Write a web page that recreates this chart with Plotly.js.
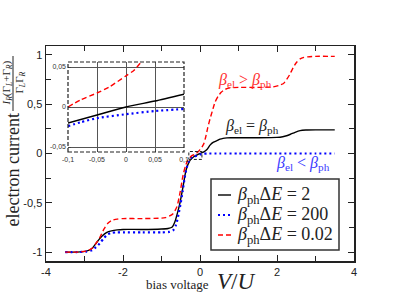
<!DOCTYPE html>
<html>
<head>
<meta charset="utf-8">
<script src="https://cdn.plot.ly/plotly-3.0.1.min.js"></script>
<style>html,body{margin:0;padding:0;background:#fff;}#chart{width:399px;height:308px;}</style>
</head>
<body>
<div id="chart"></div>
<script>
// ---------- data ----------
const seriesNames = ["<i>β</i><sub>ph</sub>Δ<i>E</i> = 2", "<i>β</i><sub>ph</sub>Δ<i>E</i> = 200", "<i>β</i><sub>ph</sub>Δ<i>E</i> = 0.02"];

// main panel: beta_ph dE = 2 (solid black)
const blackX = [-3.5,-3.2,-2.95,-2.8,-2.68,-2.55,-2.42,-2.3,-2.15,-2.0,-1.5,-1.0,-0.83,-0.72,-0.65,-0.57,-0.52,-0.47,-0.42,-0.39,-0.34,-0.3,-0.24,-0.17,-0.1,-0.05,0,0.05,0.1,0.18,0.26,0.35,0.44,0.52,0.6,0.7,0.8,1.0,1.5,2.0,2.15,2.25,2.35,2.47,2.6,2.75,3.0,3.5];
const blackY = [-1,-1,-0.99,-0.96,-0.9,-0.84,-0.8,-0.785,-0.775,-0.77,-0.77,-0.765,-0.76,-0.745,-0.69,-0.58,-0.5,-0.4,-0.29,-0.22,-0.14,-0.1,-0.06,-0.035,-0.02,-0.01,0,0.008,0.016,0.04,0.085,0.115,0.13,0.145,0.153,0.158,0.16,0.16,0.16,0.163,0.17,0.18,0.195,0.215,0.232,0.238,0.24,0.24];

// main panel: beta_ph dE = 200 (dotted blue)
const blueX = [-3.5,-3.2,-2.95,-2.8,-2.7,-2.6,-2.5,-2.4,-2.3,-2.15,-2.0,-1.5,-1.0,-0.8,-0.7,-0.62,-0.56,-0.5,-0.45,-0.4,-0.35,-0.3,-0.25,-0.2,-0.15,-0.1,-0.05,0,0.05,0.1,0.2,0.5,1,2,3,3.5];
const blueY = [-1,-1,-0.995,-0.98,-0.95,-0.91,-0.86,-0.82,-0.805,-0.8,-0.8,-0.8,-0.8,-0.795,-0.78,-0.72,-0.62,-0.5,-0.38,-0.25,-0.15,-0.09,-0.05,-0.035,-0.028,-0.024,-0.014,-0.009,-0.005,-0.0025,0,0,0,0,0,0];

// main panel: beta_ph dE = 0.02 (dashed red)
const redX = [-3.5,-3.2,-2.95,-2.8,-2.7,-2.6,-2.5,-2.4,-2.3,-2.15,-2.0,-1.5,-1.0,-0.9,-0.8,-0.7,-0.6,-0.52,-0.44,-0.38,-0.32,-0.26,-0.2,-0.15,-0.1,-0.05,0,0.05,0.1,0.15,0.2,0.26,0.32,0.39,0.47,0.55,0.65,0.78,1.0,1.5,1.9,2.05,2.17,2.25,2.33,2.42,2.5,2.6,2.7,2.8,3.0,3.5];
const redY = [-1,-1,-0.99,-0.96,-0.91,-0.85,-0.77,-0.71,-0.68,-0.665,-0.66,-0.66,-0.655,-0.65,-0.635,-0.61,-0.54,-0.4,-0.22,-0.13,-0.07,-0.04,-0.02,-0.012,0,0.018,0.039,0.065,0.1,0.17,0.26,0.35,0.43,0.52,0.58,0.62,0.65,0.665,0.67,0.67,0.675,0.69,0.71,0.75,0.8,0.87,0.92,0.96,0.975,0.98,0.985,0.985];

// inset (zoom around origin)
const insetBlackX = [-0.1,-0.05,0,0.05,0.1];
const insetBlackY = [-0.02,-0.01,0,0.0075,0.016];
const insetBlueX = [-0.1,-0.078,-0.05,0,0.05,0.1];
const insetBlueY = [-0.024,-0.019,-0.014,-0.009,-0.005,-0.0025];
const insetRedX = [-0.1,-0.078,-0.05,-0.029,0,0.014,0.025,0.04];
const insetRedY = [0,0.009,0.0175,0.025,0.039,0.046,0.055,0.065];

// tick labels
const xTickVals = [-4,-2,0,2,4];
const xTickText = ["-4","-2","0","2","4"];
const yTickVals = [-1,-0.5,0,0.5,1];
const yTickText = ["-1","-0,5","0","0,5","1"];
const insetXTickVals = [-0.1,-0.05,0,0.05,0.1];
const insetXTickText = ["-0,1","-0,05","0","0,05","0,1"];
const insetYTickVals = [-0.05,0,0.05];
const insetYTickText = ["-0,05","0","0,05"];

// ---------- styles ----------
const colors = ["#000000", "#0000ff", "#ff0000"];
const dashes = ["solid", "2px,3px", "5px,3px"];
const widths = [1.4, 2.2, 1.4];

function tr(x, y, i, xa, ya) {
  return {x: x, y: y, type: "scatter", mode: "lines", name: seriesNames[i],
    xaxis: xa, yaxis: ya, showlegend: false, hoverinfo: "skip",
    line: {color: colors[i], dash: dashes[i], width: widths[i], shape: "spline", smoothing: 0.6}};
}

const data = [
  tr(blackX, blackY, 0, "x", "y"),
  tr(blueX, blueY, 1, "x", "y"),
  tr(redX, redY, 2, "x", "y"),
  tr(insetBlackX, insetBlackY, 0, "x2", "y2"),
  tr(insetBlueX, insetBlueY, 1, "x2", "y2"),
  tr(insetRedX, insetRedY, 2, "x2", "y2")
];

// pixel -> paper helpers (plot area: x 46..354, y 46..261)
const L = 46, R = 45, T = 46, B = 47, W = 399, H = 308;
const pw = W - L - R, ph = H - T - B;
const px = p => (p - L) / pw;
const py = p => (H - B - p) / ph;

const serif = "Liberation Serif, Times New Roman, serif";
const sans = "Liberation Sans, Arial, sans-serif";

function paperText(xp, yp, text, size, extra) {
  return Object.assign({x: px(xp), y: py(yp), xref: "paper", yref: "paper", xanchor: "center", yanchor: "middle",
    text: text, showarrow: false, font: {family: serif, size: size, color: "#222"}}, extra || {});
}

const annotations = [
  // in-plot labels
  {x: 1.17, y: 0.74, xref: "x", yref: "y", xanchor: "center", yanchor: "middle", text: "<i>β</i><sub>el</sub> > <i>β</i><sub>ph</sub>", showarrow: false, font: {family: serif, size: 16, color: "#ff3030"}},
  {x: 1.36, y: 0.27, xref: "x", yref: "y", xanchor: "center", yanchor: "middle", text: "<i>β</i><sub>el</sub> = <i>β</i><sub>ph</sub>", showarrow: false, font: {family: serif, size: 16, color: "#222"}},
  {x: 2.68, y: -0.1, xref: "x", yref: "y", xanchor: "center", yanchor: "middle", text: "<i>β</i><sub>el</sub> < <i>β</i><sub>ph</sub>", showarrow: false, font: {family: serif, size: 16, color: "#3a3aff"}},
  // axis titles
  paperText(177, 284, "bias voltage", 13),
  paperText(236, 281, "<i>V</i>/<i>U</i>", 23),
  paperText(12.5, 170, "electron current", 18, {textangle: -90}),
  paperText(6.5, 83, "<i>I</i><sub><i>R</i></sub>(Γ<sub><i>L</i></sub>+Γ<sub><i>R</i></sub>)", 11, {textangle: -90}),
  paperText(19.5, 83, "Γ<sub><i>L</i></sub>Γ<sub><i>R</i></sub>", 11, {textangle: -90})
];

// manual legend text
const legRows = [195, 215, 235];
for (let i = 0; i < 3; i++) {
  annotations.push(paperText(235, legRows[i], seriesNames[i], 18, {xanchor: "left"}));
}

const shapes = [
  // fraction bar of the y title
  {type: "line", xref: "paper", yref: "paper", x0: px(13), x1: px(13), y0: py(56), y1: py(111), line: {color: "#222", width: 1}},
  // inset frame (dashed)
  {type: "rect", xref: "paper", yref: "paper", x0: px(68), x1: px(184), y0: py(152), y1: py(62), line: {color: "#222", width: 1.2, dash: "4px,2px"}},
  // small zoom box around the origin
  {type: "rect", xref: "x", yref: "y", x0: -0.29, x1: 0.05, y0: -0.06, y1: 0.02, line: {color: "#222", width: 1, dash: "3px,2px"}},
  // legend box
  {type: "rect", xref: "paper", yref: "paper", x0: px(211), x1: px(339), y0: py(250), y1: py(179), line: {color: "#333", width: 1.5}, fillcolor: "rgba(255,255,255,1)", layer: "above"}
];
for (let i = 0; i < 3; i++) {
  shapes.push({type: "line", xref: "paper", yref: "paper", x0: px(218), x1: px(231), y0: py(legRows[i]), y1: py(legRows[i]),
    line: {color: colors[i], width: widths[i], dash: dashes[i]}});
}

const mainAxis = {
  ticks: "inside", ticklen: 6, tickwidth: 1, tickcolor: "#222",
  showline: true, mirror: "allticks", linecolor: "#222", linewidth: 1.5,
  showgrid: false, zeroline: false, tickmode: "array",
  tickfont: {family: sans, size: 11, color: "#222"}
};

const layout = {
  width: W, height: H,
  margin: {l: L, r: R, t: T, b: B, pad: 0},
  paper_bgcolor: "#ffffff", plot_bgcolor: "#ffffff",
  showlegend: false,
  xaxis: Object.assign({}, mainAxis, {range: [-4, 4], tickvals: xTickVals, ticktext: xTickText,
    minor: {tickmode: "linear", tick0: 0, dtick: 1, ticks: "inside", ticklen: 5, tickcolor: "#222"}}),
  yaxis: Object.assign({}, mainAxis, {range: [-1.09, 1.09], tickvals: yTickVals, ticktext: yTickText,
    minor: {tickmode: "linear", tick0: 0, dtick: 0.25, ticks: "inside", ticklen: 5, tickcolor: "#222"}}),
  xaxis2: {domain: [px(68), px(184)], anchor: "y2", range: [-0.1, 0.1], tickmode: "array",
    tickvals: insetXTickVals, ticktext: insetXTickText, ticks: "inside", ticklen: 3, tickcolor: "#444",
    showline: false, showgrid: true, gridcolor: "#555", gridwidth: 1, zeroline: false,
    tickfont: {family: sans, size: 7, color: "#333"}, ticklabelstandoff: 2},
  yaxis2: {domain: [py(152), py(62)], anchor: "x2", range: [-0.05625, 0.05625], tickmode: "array",
    tickvals: insetYTickVals, ticktext: insetYTickText, ticks: "inside", ticklen: 3, tickcolor: "#444",
    showline: false, showgrid: true, gridcolor: "#555", gridwidth: 1, zeroline: false,
    tickfont: {family: sans, size: 7, color: "#333"}, ticklabelstandoff: 1},
  annotations: annotations,
  shapes: shapes
};

Plotly.newPlot("chart", data, layout, {displayModeBar: false, staticPlot: true});
</script>
</body>
</html>
